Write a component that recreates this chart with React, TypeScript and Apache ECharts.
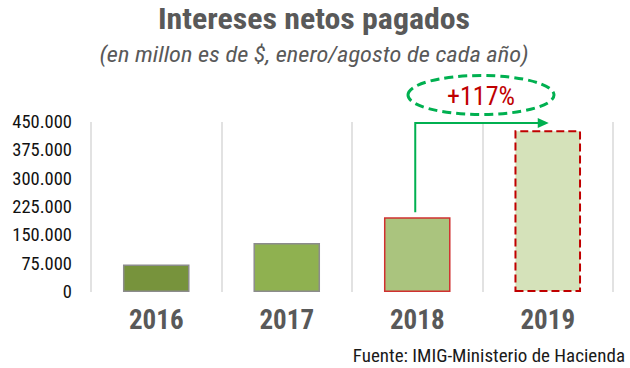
import React, { useEffect, useRef } from "react";
import * as echarts from "echarts";

const categories = ["2016", "2017", "2018", "2019"];
const values = [73000, 130000, 198000, 428000];
const yTicks = [0, 75000, 150000, 225000, 300000, 375000, 450000];
const titleText = "Intereses netos pagados";
const subtitleText = "(en millon es de $, enero/agosto de cada año)";
const sourceText = "Fuente: IMIG-Ministerio de Hacienda";
const changeText = "+117%";

const FONT = "'Roboto Condensed', 'Liberation Sans Narrow', 'DejaVu Sans Condensed', Roboto, sans-serif";

const barStyles = [
  { color: "#77933c", borderColor: "#8c8c8c", borderWidth: 1.5, borderType: "solid" },
  { color: "#8fb150", borderColor: "#8c8c8c", borderWidth: 1.5, borderType: "solid" },
  { color: "#aac47e", borderColor: "#d03030", borderWidth: 1.5, borderType: "solid" },
  { color: "#d5e2ba", borderColor: "#c00000", borderWidth: 2, borderType: "dashed" },
];

function fmt(v: number) {
  return String(v).replace(/\B(?=(\d{3})+(?!\d))/g, ".");
}

export default function App() {
  const ref = useRef<HTMLDivElement>(null);
  useEffect(() => {
    const chart = echarts.init(ref.current!, undefined, { renderer: "svg" });
    chart.setOption({
      animation: false,
      textStyle: { fontFamily: FONT },
      grid: { left: 91, right: 17, top: 122, bottom: 76 },
      xAxis: {
        type: "category",
        data: categories,
        axisLine: { show: false },
        axisTick: { show: false },
        splitLine: { show: true, lineStyle: { color: "#d9d9d9", width: 1.5 } },
        axisLabel: {
          fontFamily: FONT,
          fontSize: 27,
          fontWeight: "bold",
          color: "#595959",
          margin: 14,
        },
      },
      yAxis: {
        type: "value",
        min: 0,
        max: yTicks[yTicks.length - 1],
        interval: yTicks[1] - yTicks[0],
        splitLine: { show: false },
        axisLine: { show: false },
        axisTick: { show: false },
        axisLabel: {
          fontFamily: FONT,
          fontSize: 18.5,
          color: "#111111",
          margin: 19,
          formatter: (v: number) => fmt(v),
        },
      },
      series: [
        {
          type: "bar",
          barWidth: "51%",
          data: values.map((v, i) => ({ value: v, itemStyle: barStyles[i] })),
        },
      ],
    });

    const p2018 = chart.convertToPixel({ xAxisIndex: 0, yAxisIndex: 0 }, [categories[2], values[2]]) as number[];
    const p2019 = chart.convertToPixel({ xAxisIndex: 0, yAxisIndex: 0 }, [categories[3], yTicks[yTicks.length - 1]]) as number[];
    const ax = p2018[0] - 2;
    const topY = p2019[1] + 1;
    const endX = p2019[0] + 1;
    const midX = (ax + endX) / 2 - 1;

    chart.setOption({
      graphic: [
        {
          type: "text",
          x: 314,
          y: 19,
          scaleX: 1.08,
          style: {
            text: titleText,
            font: `bold 29.5px ${FONT}`,
            fill: "#595959",
            align: "center",
            verticalAlign: "middle",
          },
        },
        {
          type: "text",
          x: 314,
          y: 54,
          scaleX: 1.11,
          style: {
            text: subtitleText,
            font: `italic 22px ${FONT}`,
            fill: "#595959",
            align: "center",
            verticalAlign: "middle",
          },
        },
        {
          type: "text",
          x: 625,
          y: 355,
          style: {
            text: sourceText,
            font: `19px ${FONT}`,
            fill: "#1a1a1a",
            align: "right",
            verticalAlign: "middle",
          },
        },
        {
          type: "polyline",
          shape: { points: [[ax, p2018[1] - 5], [ax, topY], [endX - 9, topY]] },
          style: { stroke: "#00b050", lineWidth: 2, fill: "none" },
        },
        {
          type: "polygon",
          shape: { points: [[endX - 11, topY - 5], [endX, topY], [endX - 11, topY + 5]] },
          style: { fill: "#00b050" },
        },
        {
          type: "ellipse",
          shape: { cx: midX, cy: 95, rx: 73, ry: 19.5 },
          style: { fill: "none", stroke: "#00b050", lineWidth: 3, lineDash: [9, 5] },
        },
        {
          type: "text",
          x: midX,
          y: 96,
          style: {
            text: changeText,
            font: `26px ${FONT}`,
            fill: "#c00000",
            align: "center",
            verticalAlign: "middle",
          },
        },
      ],
    });
    return () => chart.dispose();
  }, []);
  return <div ref={ref} style={{ width: 630, height: 368, position: "absolute", left: 0, top: 0 }} />;
}
